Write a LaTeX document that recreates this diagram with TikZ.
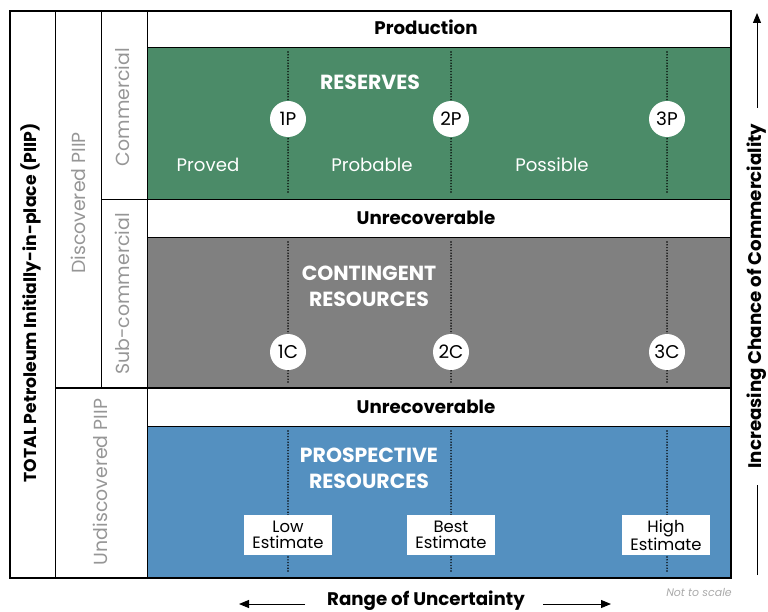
\documentclass[tikz,border=0pt]{standalone}
\usepackage{fontspec}
\setmainfont{Poppins}
\usetikzlibrary{positioning}
\usetikzlibrary{arrows.meta}

\definecolor{resgreen}{RGB}{75,139,104}
\definecolor{congray}{RGB}{128,128,128}
\definecolor{prosblue}{RGB}{84,144,192}
\definecolor{sidegray}{RGB}{150,150,150}
\definecolor{notegray}{RGB}{170,170,170}

\tikzset{
  bandlabel/.style={font=\fontsize{18.3}{20}\selectfont\bfseries},
  classtitle/.style={text=white, align=center, font=\fontsize{20.5}{26}\selectfont\bfseries},
  sublabel/.style={text=white, font=\fontsize{18.2}{20}\selectfont},
  marker/.style={circle, fill=white, inner sep=0pt, minimum size=36bp, font=\fontsize{18.5}{20}\selectfont},
  estbox/.style={fill=white, inner sep=0pt, minimum width=88bp, minimum height=40bp, align=center, font=\fontsize{16.5}{16.5}\selectfont},
  sidelabel/.style={rotate=90, text=sidegray, font=\fontsize{19}{20}\selectfont},
  axislabel/.style={font=\fontsize{18.3}{20}\selectfont\bfseries},
  axisarrow/.style={-{Triangle[length=10bp, width=8bp]}, line width=1bp},
  splitline/.style={line width=1.6bp, line cap=round, dash pattern=on 0pt off 2.8bp}
}

\begin{document}
\begin{tikzpicture}[x=1bp, y=-1bp]
  \useasboundingbox (0,0) rectangle (768,612);

  % Coloured classes
  \fill[resgreen] (147,47) rectangle (731,199);
  \fill[congray] (147,237) rectangle (731,388);
  \fill[prosblue] (147,426) rectangle (731,578);

  % Table frame
  \draw[line width=1.3bp] (10,11) rectangle (731,578);
  \draw (55,11) -- (55,578);
  \draw (101,11) -- (101,388);
  \draw (147,11) -- (147,578);
  \draw (101,199) -- (731,199);
  \draw[line width=1.3bp] (55,388) -- (731,388);
  \draw (147,47) -- (731,47);
  \draw (147,237) -- (731,237);
  \draw (147,426) -- (731,426);

  % Dotted split lines
  \foreach \x in {288,451,667} {
    \draw[splitline] (\x,52) -- (\x,194);
    \draw[splitline] (\x,242) -- (\x,383);
    \draw[splitline] (\x,431) -- (\x,573);
  }

  % Band titles
  \node[bandlabel] (prod) at (426,27) {Production};
  \node[bandlabel] (unrec1) at (426,218) {Unrecoverable};
  \node[bandlabel] (unrec2) at (426,407) {Unrecoverable};

  % Reserves
  \node[classtitle] (reserves) at (370,82) {RESERVES};
  \node[sublabel] (proved) at (208,165) {Proved};
  \node[sublabel] (probable) at (372,165) {Probable};
  \node[sublabel] (possible) at (552,165) {Possible};
  \node[marker] (p1) at (288,119) {1P};
  \node[marker] (p2) at (451,119) {2P};
  \node[marker] (p3) at (667,119) {3P};

  % Contingent resources
  \node[classtitle] (contingent) at (369,286) {CONTINGENT\\RESOURCES};
  \node[marker] (c1) at (288,352) {1C};
  \node[marker] (c2) at (451,352) {2C};
  \node[marker] (c3) at (667,352) {3C};

  % Prospective resources
  \node[classtitle] (prospective) at (369,468) {PROSPECTIVE\\RESOURCES};
  \node[estbox] (low) at (288,535) {Low\\Estimate};
  \node[estbox] (best) at (451,535) {Best\\Estimate};
  \node[estbox] (high) at (666,535) {High\\Estimate};

  % Side columns
  \node[rotate=90, font=\fontsize{17.3}{20}\selectfont\bfseries] (total) at (31,303) {TOTAL Petroleum Initially-in-place (PIIP)};
  \node[sidelabel] (disc) at (78,203) {Discovered PIIP};
  \node[sidelabel] (comm) at (122,107) {Commercial};
  \node[sidelabel] (subcomm) at (122,294) {Sub-commercial};
  \node[sidelabel] (undisc) at (100,482) {Undiscovered PIIP};

  % Axes
  \node[axislabel, rotate=90] (chance) at (757,296) {Increasing Chance of Commerciality};
  \coordinate (chancelow) at (757,575);
  \coordinate (chancemid) at (757,485);
  \coordinate (chancestart) at (757,108);
  \coordinate (chancetop) at (757,13);
  \draw[line width=1bp] (chancelow) -- (chancemid);
  \draw[axisarrow] (chancestart) -- (chancetop);
  \node[axislabel] (range) at (426,601) {Range of Uncertainty};
  \coordinate (rangeleftstart) at (305,604);
  \coordinate (rangeleft) at (239,604);
  \coordinate (rangerightstart) at (543,604);
  \coordinate (rangeright) at (611,604);
  \draw[axisarrow] (rangeleftstart) -- (rangeleft);
  \draw[axisarrow] (rangerightstart) -- (rangeright);
  \node[text=notegray, font=\fontsize{11}{12}\selectfont\itshape] (scale) at (699,592) {Not to scale};
\end{tikzpicture}
\end{document}
